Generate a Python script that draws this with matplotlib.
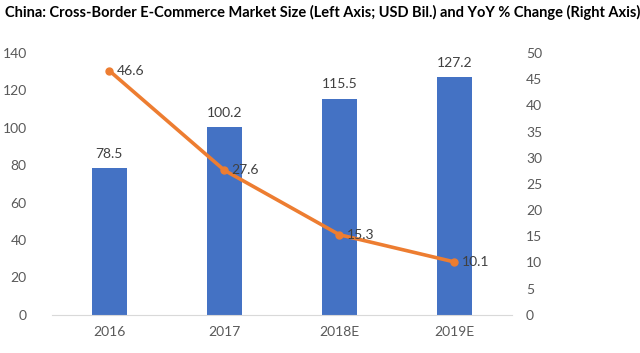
import matplotlib
matplotlib.use("Agg")
import matplotlib.pyplot as plt

plt.rcParams['font.family'] = ['Lato', 'DejaVu Sans']

years = ['2016', '2017', '2018E', '2019E']
market_size = [78.5, 100.2, 115.5, 127.2]
yoy_change = [46.6, 27.6, 15.3, 10.1]

BAR_COLOR = '#4472C4'
LINE_COLOR = '#ED7D31'
TEXT_COLOR = '#595959'

fig = plt.figure(figsize=(6.4, 3.53), dpi=100)
ax = fig.add_axes([0.081, 0.108, 0.719, 0.742])
ax2 = ax.twinx()

x = list(range(len(years)))
ax.bar(x, market_size, width=0.31, color=BAR_COLOR, zorder=2)
for xi, v in zip(x, market_size):
    ax.annotate(f'{v}', (xi, v), xytext=(0, 6), textcoords='offset points',
                ha='center', va='bottom', fontsize=10, color='#404040')

ax2.plot(x, yoy_change, color=LINE_COLOR, lw=2.6, marker='o', ms=5, zorder=3)
for xi, v in zip(x, yoy_change):
    ax2.annotate(f'{v}', (xi, v), xytext=(5, 0), textcoords='offset points',
                 ha='left', va='center', fontsize=10, color='#404040')

ax.set_xlim(-0.5, 3.5)
ax.set_ylim(0, 140)
ax.set_yticks(range(0, 141, 20))
ax2.set_ylim(0, 50)
ax2.set_yticks(range(0, 51, 5))
ax.set_xticks(x)
ax.set_xticklabels(years)

for a in (ax, ax2):
    for s in a.spines.values():
        s.set_visible(False)
    a.tick_params(length=0, labelsize=10, colors=TEXT_COLOR)
ax.spines['bottom'].set_visible(True)
ax.spines['bottom'].set_color('#D9D9D9')
ax.tick_params(axis='y', pad=18)
ax.tick_params(axis='x', pad=8)
ax2.tick_params(axis='y', pad=10)

ax2.set_zorder(ax.get_zorder() + 1)
ax2.patch.set_visible(False)

fig.text(0.008, 0.965, 'China: Cross-Border E-Commerce Market Size (Left Axis; USD Bil.) and YoY % Change (Right Axis)',
         fontsize=10.5, fontweight='bold', color='black', ha='left', va='center')

fig.savefig('out.png', dpi=100)
